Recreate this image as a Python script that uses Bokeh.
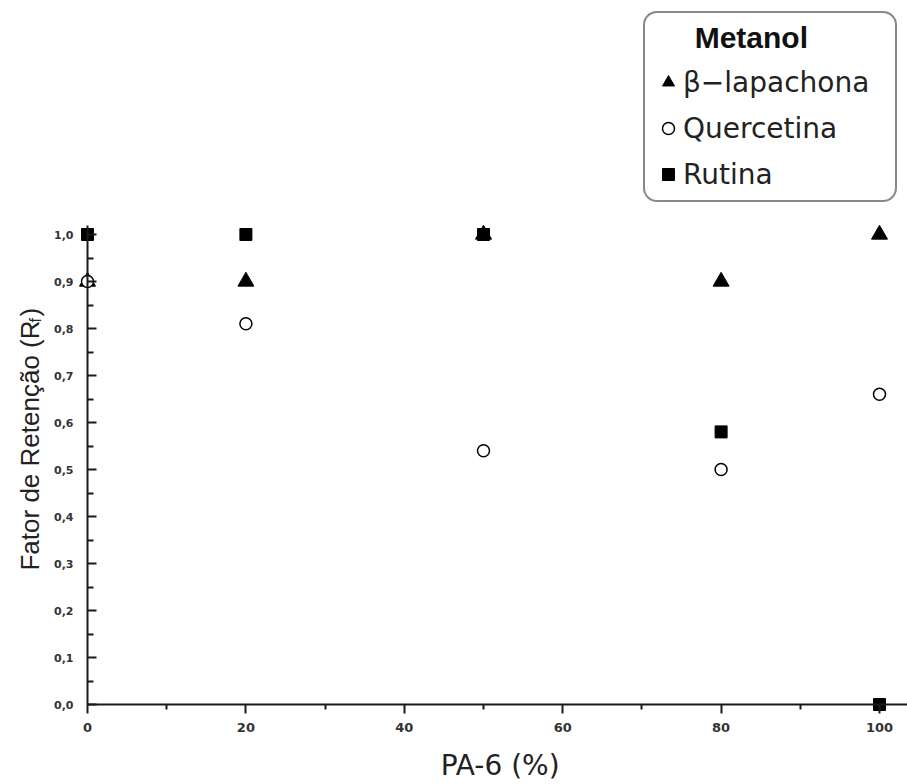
import math
from bokeh.plotting import figure
from bokeh.models import (Range1d, FixedTicker, CustomJSTickFormatter, Legend, LegendItem, Label)
from bokeh.embed import file_html
from bokeh.resources import INLINE

# ---- data ----
pa6 = [0, 20, 50, 80, 100]
lapachona = [0.90, 0.90, 1.00, 0.90, 1.00]
quercetina = [0.90, 0.81, 0.54, 0.50, 0.66]
rutina = [1.00, 1.00, 1.00, 0.58, 0.00]
x_ticks = [0, 20, 40, 60, 80, 100]
x_minor = [10, 30, 50, 70, 90]
y_ticks = [0.0, 0.1, 0.2, 0.3, 0.4, 0.5, 0.6, 0.7, 0.8, 0.9, 1.0]
y_minor = [0.05, 0.15, 0.25, 0.35, 0.45, 0.55, 0.65, 0.75, 0.85, 0.95]

W, H = 907, 784
p = figure(width=W, height=H, output_backend="svg", toolbar_location=None,
           x_range=Range1d(-10.985, 103.535), y_range=Range1d(-0.1702, 1.4979),
           min_border_left=0, min_border_right=0, min_border_top=0, min_border_bottom=0)
p.outline_line_color = None
p.xgrid.visible = False
p.ygrid.visible = False
p.background_fill_color = "white"
p.border_fill_color = "white"

AX = "#1a1a1a"
for ax in (p.xaxis[0], p.yaxis[0]):
    ax.axis_line_color = AX
    ax.axis_line_width = 2
    ax.major_tick_line_color = AX
    ax.minor_tick_line_color = AX
    ax.major_tick_line_width = 2
    ax.minor_tick_line_width = 2
    ax.major_label_text_font = "DejaVu Sans"
    ax.major_label_text_font_style = "bold"
    ax.major_label_text_color = "#333333"
    ax.fixed_location = 0

xa = p.xaxis[0]
xa.ticker = FixedTicker(ticks=x_ticks, minor_ticks=x_minor)
xa.bounds = (0, 103.535)
xa.major_tick_in = 0
xa.major_tick_out = 9
xa.minor_tick_in = 0
xa.minor_tick_out = 5
xa.major_label_standoff = 9
xa.major_label_text_font_size = "13px"

ya = p.yaxis[0]
ya.ticker = FixedTicker(ticks=y_ticks, minor_ticks=y_minor)
ya.bounds = (0, 1.019)
ya.major_tick_in = 9
ya.major_tick_out = 0
ya.minor_tick_in = 6
ya.minor_tick_out = 0
ya.major_label_standoff = 14
ya.major_label_text_font_size = "11px"
ya.formatter = CustomJSTickFormatter(code="return tick.toFixed(1).replace('.', ',');")

r_tri = p.scatter(pa6, lapachona, marker="triangle", size=16, fill_color="black", line_color="black")
r_cir = p.scatter(pa6, quercetina, marker="circle", size=12, fill_color="white", line_color="black", line_width=1.5)
r_sq = p.scatter(pa6, rutina, marker="square", size=12, fill_color="black", line_color="black")

legend = Legend(items=[LegendItem(label="β−lapachona", renderers=[r_tri]),
                       LegendItem(label="Quercetina", renderers=[r_cir]),
                       LegendItem(label="Rutina", renderers=[r_sq])],
                location=(643, 582))
legend.title = "\u00a0\u00a0\u00a0\u00a0\u00a0Metanol"
legend.title_text_font = "Liberation Sans"
legend.title_text_font_style = "bold"
legend.title_text_font_size = "30px"
legend.title_text_color = "#111111"
legend.title_standoff = 9
legend.label_text_font = "DejaVu Sans"
legend.label_text_font_size = "28px"
legend.label_text_color = "#222222"
legend.label_height = 36
legend.label_width = 204
legend.glyph_width = 30
legend.glyph_height = 36
legend.label_standoff = 0
legend.padding = 8
legend.spacing = 10
legend.border_line_color = "#111111"
legend.border_line_width = 2
legend.background_fill_color = "white"
legend.background_fill_alpha = 1
try:
    legend.border_radius = 14
except Exception:
    pass
p.add_layout(legend)

# axis titles as labels (data units)
p.add_layout(Label(x=52.1, y=-0.1298, text="PA-6 (%)", text_font="DejaVu Sans", text_font_size="28px",
                   text_align="center", text_baseline="alphabetic", text_color="#222222"))
TF = "Liberation Sans"
p.add_layout(Label(x=-7.323, y=0.2851, text="Fator de Retenção (R", angle=math.pi / 2,
                   text_font=TF, text_font_size="26px", text_align="left",
                   text_baseline="alphabetic", text_color="#222222"))
p.add_layout(Label(x=-6.56, y=0.8128, text="f", angle=math.pi / 2,
                   text_font=TF, text_font_size="16px", text_align="left",
                   text_baseline="alphabetic", text_color="#222222"))
p.add_layout(Label(x=-7.323, y=0.8255, text=")", angle=math.pi / 2,
                   text_font=TF, text_font_size="26px", text_align="left",
                   text_baseline="alphabetic", text_color="#222222"))

open("out.html", "w").write(file_html(p, INLINE))
